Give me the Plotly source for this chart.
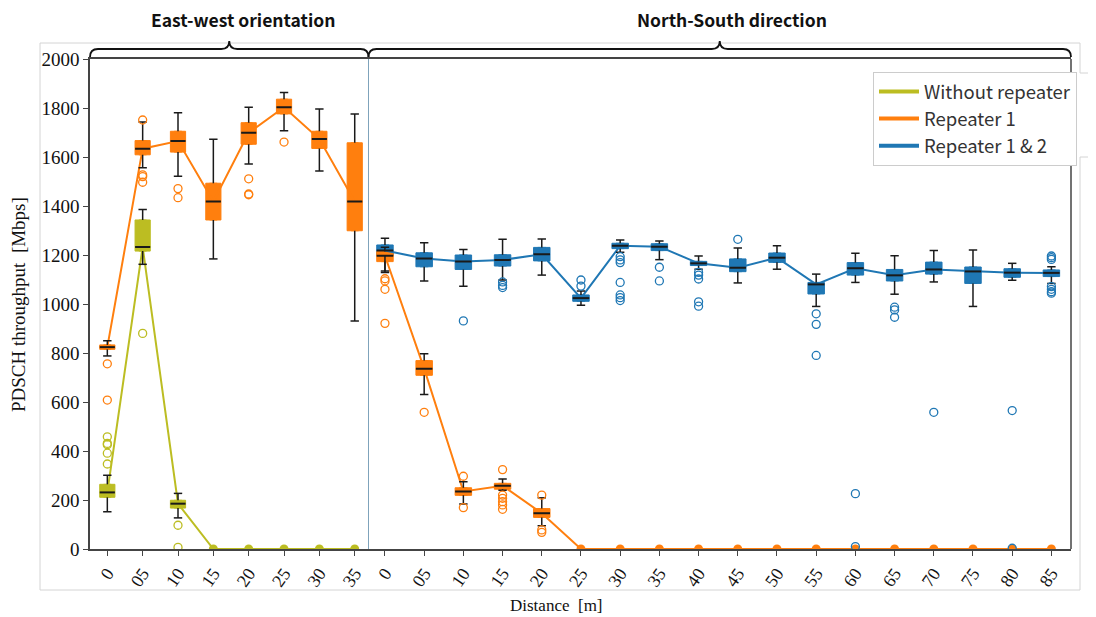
import plotly.graph_objects as go

# ---------------- data ----------------
ew_cats = ["0", "05", "10", "15", "20", "25", "30", "35"]
ns_cats = ["0", "05", "10", "15", "20", "25", "30", "35", "40", "45",
           "50", "55", "60", "65", "70", "75", "80", "85"]

# Without repeater (East-west)
g_med = [231, 1233, 185, 0, 0, 0, 0, 0]
g_q1 = [211, 1216, 167, 0, 0, 0, 0, 0]
g_q3 = [264, 1343, 199, 0, 0, 0, 0, 0]
g_lo = [152, 1162, 127, 0, 0, 0, 0, 0]
g_hi = [301, 1386, 227, 0, 0, 0, 0, 0]
g_out = [[458, 431, 426, 391, 347], [880], [97, 7], [], [], [], [], []]

# Repeater 1 (East-west)
o1_med = [824, 1634, 1665, 1418, 1699, 1803, 1673, 1418]
o1_q1 = [815, 1609, 1620, 1343, 1652, 1776, 1635, 1299]
o1_q3 = [833, 1667, 1705, 1493, 1740, 1836, 1705, 1658]
o1_lo = [788, 1556, 1521, 1184, 1571, 1707, 1543, 931]
o1_hi = [850, 1743, 1781, 1672, 1803, 1863, 1796, 1776]
o1_out = [[756, 608], [1751, 1527, 1520, 1497], [1471, 1434], [],
          [1511, 1449, 1446], [1661], [], []]

# Repeater 1 (North-South)
o2_med = [1197, 736, 235, 258, 146] + [0] * 13
o2_q1 = [1173, 709, 219, 244, 129] + [0] * 13
o2_q3 = [1214, 769, 250, 268, 165] + [0] * 13
o2_lo = [1135, 631, 184, 240, 95] + [0] * 13
o2_hi = [1232, 797, 275, 286, 209] + [0] * 13
o2_out = [[1103, 1094, 1060, 921], [558], [297, 169],
          [324, 220, 207, 193, 180, 162], [220, 78, 68]] + [[] for _ in range(13)]

# Repeater 1 & 2 (North-South)
b_med = [1218, 1186, 1173, 1180, 1203, 1024, 1238, 1234, 1166, 1148, 1189, 1080,
         1146, 1117, 1141, 1133, 1128, 1127]
b_q1 = [1196, 1152, 1141, 1155, 1176, 1011, 1226, 1218, 1157, 1132, 1170, 1041,
        1118, 1094, 1122, 1084, 1109, 1112]
b_q3 = [1241, 1209, 1200, 1201, 1231, 1037, 1248, 1246, 1174, 1184, 1208, 1088,
        1169, 1141, 1171, 1151, 1144, 1139]
b_lo = [1129, 1094, 1072, 1098, 1118, 995, 1211, 1181, 1142, 1086, 1142, 990,
        1088, 1040, 1090, 990, 1097, 1084]
b_hi = [1268, 1250, 1222, 1264, 1265, 1053, 1261, 1257, 1196, 1229, 1238, 1122,
        1207, 1197, 1218, 1220, 1166, 1152]
b_out = [[], [], [931], [1090, 1076, 1067], [], [1098, 1073],
         [1193, 1180, 1169, 1088, 1037, 1026, 1014], [1150, 1094],
         [1129, 1118, 1102, 1009, 991], [1264], [], [960, 917, 790],
         [226, 10], [987, 976, 946], [558], [], [565, 3],
         [1196, 1189, 1182, 1071, 1060, 1050, 1044]]

GREEN = "#bcbd22"
ORANGE = "#ff7f0e"
BLUE = "#1f77b4"

# ---------------- layout geometry (page pixels; body has 8px margin) ----------------
OFF = 8
W, H = 1096 - OFF, 617 - OFF
L, R, T, B = 90, 1071, 59, 549
SEP = 368.5
PW, PH = R - L, B - T


def px(x):
    return (x - L) / PW


def py(y):
    return (B - y) / PH


fig = go.Figure()


def add_boxes(cats, med, q1, q3, color, xa, bw):
    nz = [i for i, m in enumerate(med) if m != 0]
    fig.add_trace(go.Box(
        x=[cats[i] for i in nz], q1=[q1[i] for i in nz], median=[med[i] for i in nz],
        q3=[q3[i] for i in nz], lowerfence=[q1[i] for i in nz],
        upperfence=[q3[i] for i in nz], width=bw, fillcolor=color,
        line=dict(color=color, width=1), boxpoints=False,
        xaxis=xa, yaxis="y", showlegend=False, hoverinfo="skip"))


def add_overlay(cats, med, q1, q3, lo, hi, out, color, xa, msize):
    nz = [i for i, m in enumerate(med) if m != 0]
    zs = [i for i, m in enumerate(med) if m == 0]
    fig.add_trace(go.Scatter(x=cats, y=med, mode="lines",
                             line=dict(color=color, width=2),
                             xaxis=xa, yaxis="y", showlegend=False, hoverinfo="skip"))
    if zs:
        fig.add_trace(go.Scatter(x=[cats[i] for i in zs], y=[med[i] for i in zs],
                                 mode="markers", marker=dict(color=color, size=9),
                                 xaxis=xa, yaxis="y", showlegend=False, hoverinfo="skip"))
    wx, wy = [], []
    for i in nz:
        wx += [cats[i], cats[i], None, cats[i], cats[i], None]
        wy += [q3[i], hi[i], None, q1[i], lo[i], None]
    fig.add_trace(go.Scatter(x=wx, y=wy, mode="lines",
                             line=dict(color="#1a1a1a", width=1.5),
                             xaxis=xa, yaxis="y", showlegend=False, hoverinfo="skip"))
    fig.add_trace(go.Scatter(x=[cats[i] for i in nz] * 2,
                             y=[hi[i] for i in nz] + [lo[i] for i in nz], mode="markers",
                             marker=dict(symbol="line-ew", size=6,
                                         line=dict(color="#1a1a1a", width=1.5)),
                             xaxis=xa, yaxis="y", showlegend=False, hoverinfo="skip"))
    fig.add_trace(go.Scatter(x=[cats[i] for i in nz], y=[med[i] for i in nz],
                             mode="markers",
                             marker=dict(symbol="line-ew", size=msize,
                                         line=dict(color="#1a1a1a", width=2)),
                             xaxis=xa, yaxis="y", showlegend=False, hoverinfo="skip"))
    ox, oy = [], []
    for i, vals in enumerate(out):
        for v in vals:
            ox.append(cats[i])
            oy.append(v)
    if ox:
        fig.add_trace(go.Scatter(x=ox, y=oy, mode="markers",
                                 marker=dict(symbol="circle-open", size=8,
                                             line=dict(color=color, width=1.3), color=color),
                                 xaxis=xa, yaxis="y", showlegend=False, hoverinfo="skip"))


series = {
    "o1": (ew_cats, o1_med, o1_q1, o1_q3, o1_lo, o1_hi, o1_out, ORANGE, "x", 0.43, 10.8),
    "g": (ew_cats, g_med, g_q1, g_q3, g_lo, g_hi, g_out, GREEN, "x", 0.43, 10.8),
    "b": (ns_cats, b_med, b_q1, b_q3, b_lo, b_hi, b_out, BLUE, "x2", 0.42, 11.8),
    "o2": (ns_cats, o2_med, o2_q1, o2_q3, o2_lo, o2_hi, o2_out, ORANGE, "x2", 0.42, 11.8),
}
for k in ["o1", "g", "b", "o2"]:
    c, m, a, b, lo, hi, out, col, xa, bw, ms = series[k]
    add_boxes(c, m, a, b, col, xa, bw)
for k in ["o1", "g", "o2", "b"]:
    c, m, a, b, lo, hi, out, col, xa, bw, ms = series[k]
    add_overlay(c, m, a, b, lo, hi, out, col, xa, ms)

# legend entries
for name, col in [("Without repeater", GREEN), ("Repeater 1", ORANGE), ("Repeater 1 & 2", BLUE)]:
    fig.add_trace(go.Scatter(x=[None], y=[None], mode="lines", name=name,
                             line=dict(color=col, width=4), xaxis="x2", yaxis="y"))

sepf = px(SEP)
axis_common = dict(type="category", showline=True, linecolor="#444", linewidth=1.5,
                   mirror=True, ticks="outside", ticklen=5, tickcolor="#444",
                   tickangle=-55, showgrid=False, zeroline=False,
                   tickfont=dict(family="Liberation Serif", size=18, color="#111"))

fig.update_layout(
    width=W, height=H,
    margin=dict(l=L - OFF, r=W + OFF - R, t=T - OFF, b=H + OFF - B),
    paper_bgcolor="white", plot_bgcolor="white",
    boxmode="overlay",
    showlegend=True,
    legend=dict(x=px(873), y=py(72), xanchor="left", yanchor="top",
                bgcolor="white", bordercolor="#cccccc", borderwidth=1,
                itemwidth=40,
                font=dict(family="Noto Sans CJK JP", size=18.5, color="#333"),
                tracegroupgap=0),
    xaxis=dict(domain=[0, sepf], range=[-0.49, 7.39], anchor="y", **axis_common),
    xaxis2=dict(domain=[sepf, 1], range=[-0.42, 17.5], anchor="y", **axis_common),
    yaxis=dict(range=[0, 2000], dtick=200, showline=True, linecolor="#444", linewidth=1.5,
               ticks="outside", ticklen=5, tickcolor="#444", showgrid=False, zeroline=False,
               tickfont=dict(family="Liberation Serif", size=19, color="#111")),
)

# separator and right spine
fig.add_shape(type="line", xref="paper", yref="paper", x0=sepf, x1=sepf, y0=0, y1=1,
              line=dict(color="#7fa3bb", width=1))
fig.add_shape(type="line", xref="paper", yref="paper", x0=1, x1=1, y0=0, y1=1,
              line=dict(color="#444", width=1.5))

# outer light frame
frame1 = "M {} {} L {} {} L {} {} L {} {} L {} {}".format(
    px(40), py(590), px(40), py(43), px(1080), py(43), px(1080), py(73), px(1096), py(73))
frame2 = "M {} {} L {} {} L {} {} L {} {}".format(
    px(1096), py(157), px(1080), py(157), px(1080), py(590), px(40), py(590))
for p in (frame1, frame2):
    fig.add_shape(type="path", xref="paper", yref="paper", path=p,
                  line=dict(color="#d4d4d4", width=1), layer="below")


def brace(x0, x1):
    xm = (x0 + x1) / 2
    yb, yh, yp = 57, 49, 41
    pts = [
        ("M", [(x0, yb)]),
        ("Q", [(x0, yh), (x0 + 8, yh)]),
        ("L", [(xm - 8, yh)]),
        ("Q", [(xm, yh), (xm, yp)]),
        ("Q", [(xm, yh), (xm + 8, yh)]),
        ("L", [(x1 - 8, yh)]),
        ("Q", [(x1, yh), (x1, yb)]),
    ]
    s = ""
    for cmd, ps in pts:
        s += cmd + " " + " ".join("{:.5f},{:.5f}".format(px(a), py(b)) for a, b in ps) + " "
    return s.strip()


for x0, x1 in [(L, SEP), (SEP, R)]:
    fig.add_shape(type="path", xref="paper", yref="paper", path=brace(x0, x1),
                  line=dict(color="#111", width=1.8))

for txt, xc in [("East-west orientation", 243), ("North-South direction", 732)]:
    fig.add_annotation(x=px(xc), y=py(20), xref="paper", yref="paper", text="<b>" + txt + "</b>",
                       showarrow=False, xanchor="center", yanchor="middle",
                       font=dict(family="Noto Sans CJK JP", size=17.5, color="#111"))

fig.add_annotation(x=px(18), y=py(305), xref="paper", yref="paper",
                   text="PDSCH throughput  [Mbps]", textangle=-90, showarrow=False,
                   xanchor="center", yanchor="middle",
                   font=dict(family="Liberation Serif", size=19, color="#111"))
fig.add_annotation(x=px(556), y=py(605), xref="paper", yref="paper",
                   text="Distance  [m]", showarrow=False,
                   xanchor="center", yanchor="middle",
                   font=dict(family="Liberation Serif", size=17, color="#111"))

fig.write_html("out.html")
